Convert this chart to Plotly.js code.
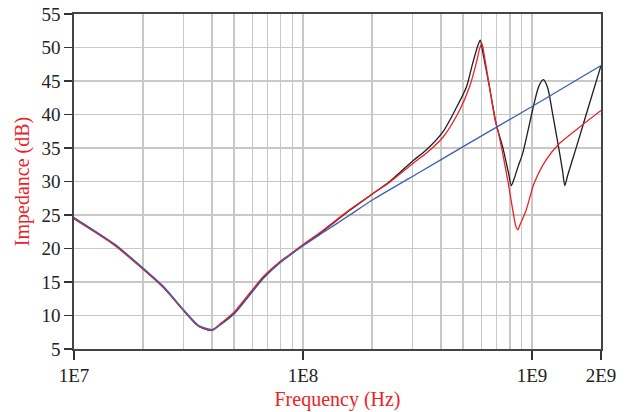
<!DOCTYPE html>
<html>
<head>
<meta charset="utf-8">
<script src="https://cdn.plot.ly/plotly-3.0.1.min.js"></script>
<style>html,body{margin:0;padding:0;background:#fff;}#chart{width:629px;height:412px;}</style>
</head>
<body>
<div id="chart"></div>
<script>
// Measured curve (black)
const blackFreq = [1e7,1.5e7,2e7,2.45e7,3e7,3.5e7,4e7,4.4e7,5e7,6.7e7,7.9e7,8.75e7,1e8,1.18e8,1.6e8,2.02e8,2.39e8,3.02e8,3.45e8,4.08e8,4.67e8,5.17e8,5.5e8,5.8e8,5.94e8,6.1e8,6.52e8,6.97e8,7.45e8,7.9e8,8.11e8,8.35e8,8.7e8,9.1e8,1.02e9,1.07e9,1.12e9,1.17e9,1.23e9,1.32e9,1.36e9,1.39e9,1.43e9,1.56e9,1.78e9,2e9];
const blackDb   = [24.6,20.6,17.0,14.3,10.8,8.4,7.8,8.8,10.3,15.6,17.9,19.0,20.5,22.2,25.7,28.2,30.0,33.1,34.7,37.4,41.0,44.1,47.6,50.3,51.1,49.2,44.1,38.6,35.1,31.2,29.4,30.4,32.3,34.2,41.6,44.2,45.2,44.0,40.1,34.2,31.5,29.4,30.9,35.1,41.6,47.3];

// Red curve
const redFreq = [1e7,1.5e7,2e7,2.45e7,3e7,3.5e7,4e7,4.4e7,5e7,6.7e7,7.9e7,8.75e7,1e8,1.18e8,1.6e8,2.02e8,2.39e8,3.02e8,3.45e8,4.08e8,4.82e8,5.33e8,5.7e8,5.9e8,6.04e8,6.2e8,6.52e8,6.86e8,7.2e8,7.83e8,8.24e8,8.5e8,8.67e8,8.85e8,9.42e8,1.02e9,1.15e9,1.32e9,1.61e9,2e9];
const redDb   = [24.4,20.5,16.9,14.2,10.8,8.4,7.8,8.9,10.5,15.8,18.0,19.1,20.6,22.3,25.8,28.2,29.9,32.7,34.2,36.6,40.6,44.1,47.6,49.8,50.6,48.6,44.1,39.6,36.6,30.2,25.7,23.3,22.8,23.5,25.7,29.7,33.2,35.7,38.1,40.6];

// Blue curve
const blueFreq = [1e7,1.5e7,2e7,2.45e7,3e7,3.5e7,4e7,4.4e7,5e7,6.7e7,7.9e7,1e8,1.2e8,1.6e8,2e8,3.2e8,5e8,1e9,2e9];
const blueDb   = [24.6,20.7,17.1,14.4,10.9,8.5,7.9,8.7,10.2,15.5,17.8,20.4,22.2,25.0,27.2,31.3,35.2,41.2,47.3];

// Axis ticks
const xTickVals = [1e7,1e8,1e9,2e9];
const xTickText = ['1E7','1E8','1E9','2E9'];
const xMinorVals = [2e7,3e7,4e7,5e7,6e7,7e7,8e7,9e7,2e8,3e8,4e8,5e8,6e8,7e8,8e8,9e8];

const serif = 'Liberation Serif, Times New Roman, serif';
const traces = [
  {x: blackFreq, y: blackDb, type: 'scatter', mode: 'lines', line: {color: '#1e1e1e', width: 1.3, shape: 'spline', smoothing: 0.7}, showlegend: false},
  {x: redFreq, y: redDb, type: 'scatter', mode: 'lines', line: {color: '#ee2127', width: 1.3, shape: 'spline', smoothing: 0.7}, showlegend: false},
  {x: blueFreq, y: blueDb, type: 'scatter', mode: 'lines', line: {color: '#3d5fb3', width: 1.3, shape: 'spline', smoothing: 0.5}, showlegend: false}
];

const layout = {
  width: 629, height: 412,
  margin: {l: 74, r: 27.5, t: 13.5, b: 63},
  paper_bgcolor: '#fff', plot_bgcolor: '#fff',
  font: {family: serif, size: 19, color: '#222'},
  xaxis: {
    type: 'log', range: [7, Math.log10(2e9)],
    tickmode: 'array', tickvals: xTickVals, ticktext: xTickText,
    ticks: 'outside', ticklen: 9, tickwidth: 1.5, tickcolor: '#333',
    showgrid: true, gridcolor: '#c8c8c8', gridwidth: 1.3,
    minor: {tickmode: 'array', tickvals: xMinorVals, showgrid: true, gridcolor: '#c8c8c8', gridwidth: 1.3, ticks: ''},
    showline: true, mirror: true, linecolor: '#444', linewidth: 1.6,
    zeroline: false, automargin: false,
    tickfont: {family: serif, size: 19, color: '#222'},
    title: {text: 'Frequency (Hz)', font: {family: serif, size: 20, color: '#ee2127'}, standoff: 6}
  },
  yaxis: {
    range: [5, 55], tickmode: 'linear', tick0: 5, dtick: 5,
    ticks: 'outside', ticklen: 8, tickwidth: 1.5, tickcolor: '#333',
    showgrid: true, gridcolor: '#c8c8c8', gridwidth: 1.3,
    showline: true, mirror: true, linecolor: '#444', linewidth: 1.6,
    zeroline: false, automargin: false,
    tickfont: {family: serif, size: 19, color: '#222'},
    title: {text: 'Impedance (dB)', font: {family: serif, size: 20, color: '#ee2127'}, standoff: 6}
  }
};

Plotly.newPlot('chart', traces, layout, {displayModeBar: false, staticPlot: true});
</script>
</body>
</html>
